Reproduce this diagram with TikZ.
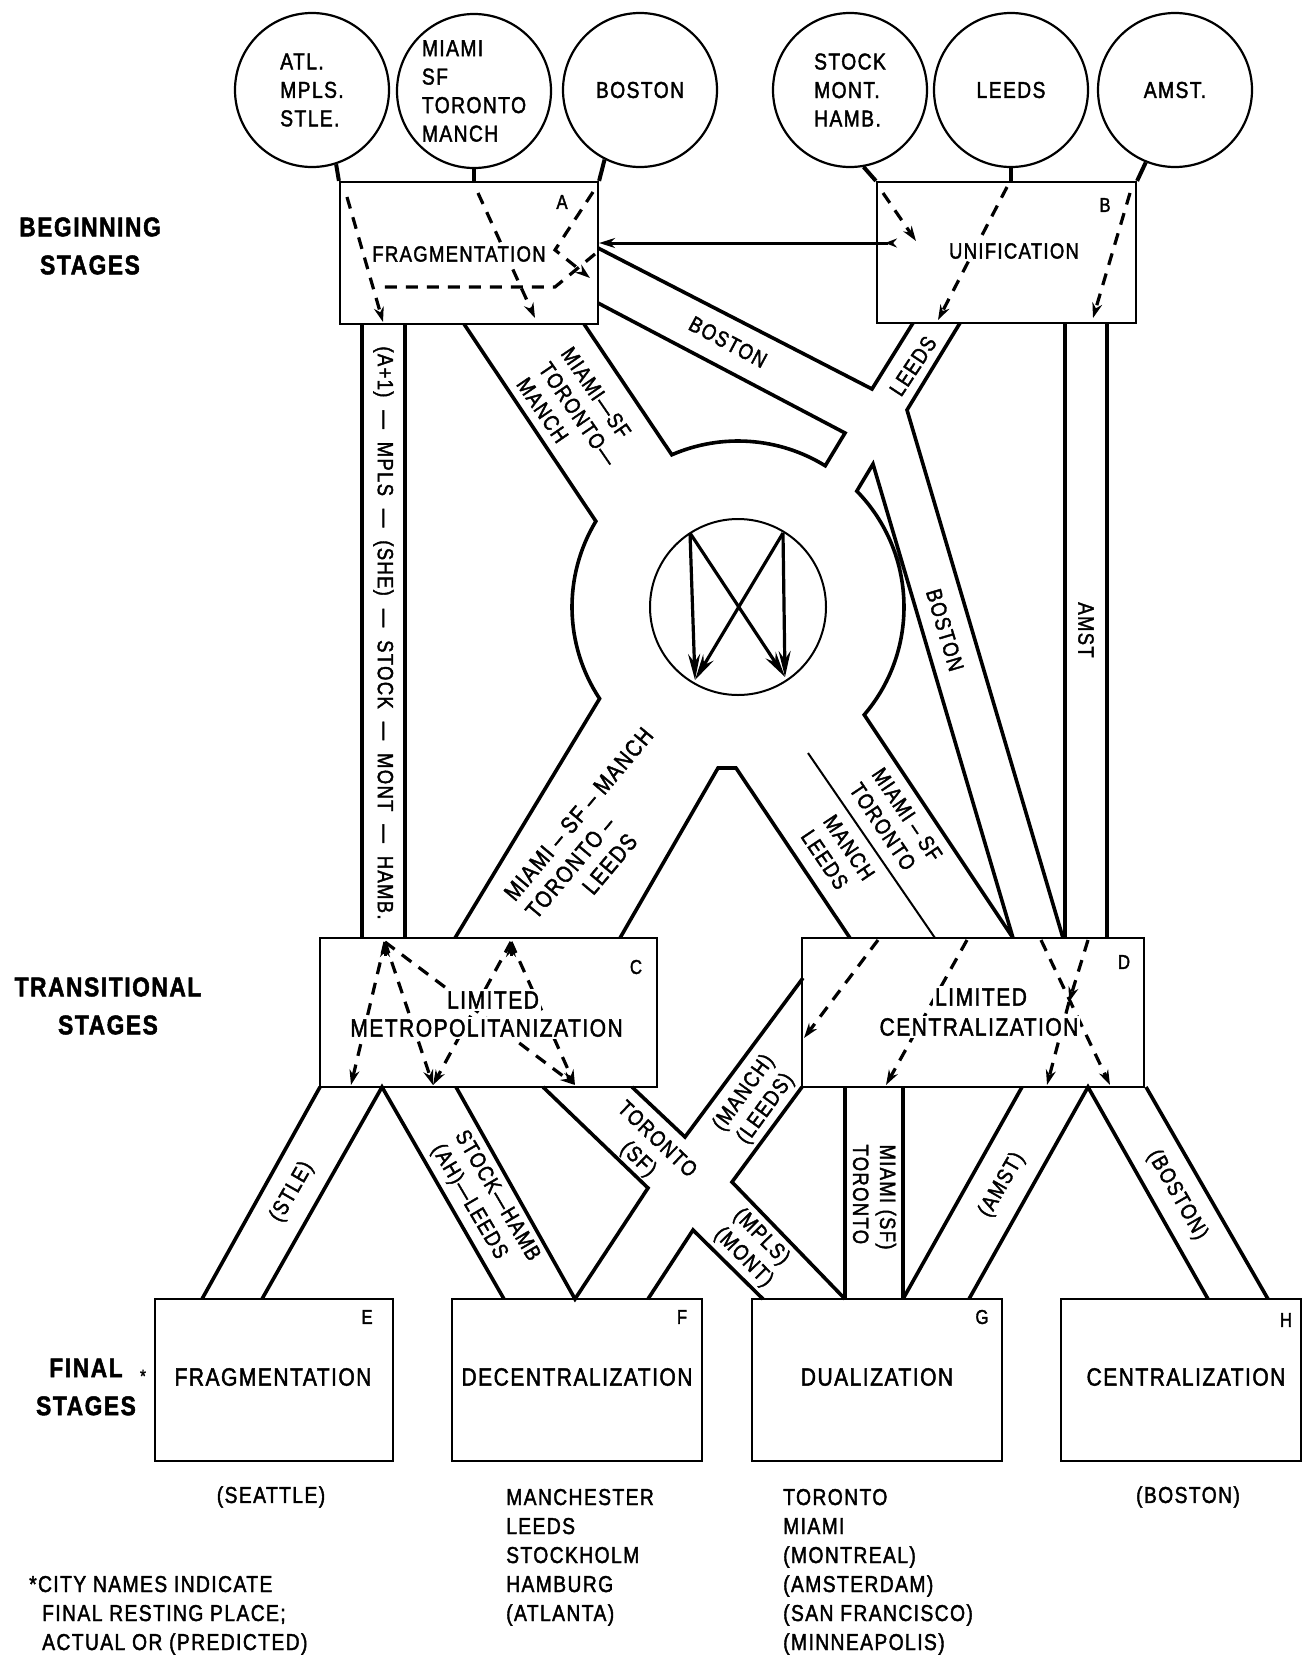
\documentclass[tikz,border=0pt]{standalone}
\usepackage{fontspec}
\setmainfont{Liberation Sans}[FakeStretch=0.84,LetterSpace=6,FakeBold=1.8]
\usetikzlibrary{arrows.meta,calc}
\begin{document}
\begin{tikzpicture}[x=1pt,y=-1pt,
  band/.style={line width=3.6pt, line join=miter, line cap=butt},
  thinband/.style={line width=2pt},
  stagebox/.style={draw, line width=2.2pt, inner sep=0pt},
  city/.style={draw, circle, line width=2.2pt, minimum size=154pt, inner sep=0pt, align=left, font=\fontsize{23}{28.5}\selectfont},
  stem/.style={line width=4pt},
  flow/.style={line width=3.2pt, dash pattern=on 12pt off 9pt, -{Stealth[length=15pt,width=10pt]}},
  flowline/.style={line width=3.2pt, dash pattern=on 12pt off 9pt},
  hubarrow/.style={line width=3.2pt, -{Stealth[length=26pt,width=12pt]}},
  boxtext/.style={font=\fontsize{22}{26}\selectfont, inner sep=2pt, fill=white},
  bigtext/.style={font=\fontsize{25}{30}\selectfont, inner sep=2pt, fill=white},
  letter/.style={font=\fontsize{20}{24}\selectfont, inner sep=0pt},
  road/.style={font=\fontsize{22}{27}\selectfont, inner sep=0pt, align=left},
  stagelbl/.style={font=\bfseries\fontsize{27}{38}\selectfont, align=center, inner sep=0pt},
  plain/.style={font=\fontsize{23}{28}\selectfont, inner sep=0pt},
  listtext/.style={font=\fontsize{23}{28}\selectfont, inner sep=0pt, anchor=base west},
]
\useasboundingbox (0,0) rectangle (1308,1655);

% ---------- city circles ----------
\node[city] (c1) at (312,90) {ATL.\\MPLS.\\STLE.};
\node[city] (c2) at (474,91) {MIAMI\\SF\\TORONTO\\MANCH};
\node[city] (c3) at (640,90) {BOSTON};
\node[city] (c4) at (850,90) {STOCK\\MONT.\\HAMB.};
\node[city] (c5) at (1011,90) {LEEDS};
\node[city] (c6) at (1175,90) {AMST.};

% ---------- stage boxes ----------
\node[stagebox, minimum width=258pt, minimum height=142pt] (A) at (469,253) {};
\node[stagebox, minimum width=259pt, minimum height=141pt] (B) at (1006.5,252.5) {};
\node[stagebox, minimum width=337pt, minimum height=149pt] (C) at (488.5,1012.5) {};
\node[stagebox, minimum width=342pt, minimum height=149pt] (D) at (973,1012.5) {};
\node[stagebox, minimum width=238pt, minimum height=162pt] (E) at (274,1380) {};
\node[stagebox, minimum width=250pt, minimum height=162pt] (F) at (577,1380) {};
\node[stagebox, minimum width=250pt, minimum height=162pt] (G) at (877,1380) {};
\node[stagebox, minimum width=240pt, minimum height=162pt] (H) at (1181,1380) {};

% ---------- stems ----------
\draw[stem] (c1.-72) -- (A.north west);
\draw[stem] (c2.south) -- (c2.south |- A.north);
\draw[stem] (c3.-117) -- (A.north east);
\draw[stem] (c4.-80) -- (B.north west);
\draw[stem] (c5.south) -- (c5.south |- B.north);
\draw[stem] (c6.-112) -- (B.north east);

% ---------- roads (upper) ----------
\coordinate (O) at (738,607);
\draw[band] (362,324) -- (362,938);
\draw[band] (405,324) -- (405,938);
\draw[band] (464,324) -- ($(O)+(211.1:166)$) arc[start angle=211.1, end angle=146.5, radius=166] -- (455,938);
\draw[band] (584,324) -- ($(O)+(-113.5:166)$) arc[start angle=-113.5, end angle=-58.3, radius=166] -- (845,433) -- (598,303);
\draw[band] (598,248) -- (872,389) -- (913,323);
\draw[band] (960,323) -- (907,410) -- (1063,938);
\draw[band] (1013,938) -- (873,464) -- ($(O)+(-44.3:166)$) arc[start angle=-44.3, end angle=40.5, radius=166] -- (1013,938);
\draw[band] (1065,323) -- (1065,938);
\draw[band] (1107,323) -- (1107,938);
\draw[band] (620,938) -- (718,768) -- (736,768) -- (850,938);
\draw[thinband] (808,753) -- (935,938);

% ---------- roads (lower) ----------
\draw[band] (320,1087) -- (202,1299);
\draw[band] (262,1299) -- (382,1087) -- (504,1299);
\draw[band] (456,1087) -- (575,1299) -- (648,1188) -- (543,1087);
\draw[band] (632,1087) -- (685,1137) -- (803,978);
\draw[band] (802,1087) -- (732,1182) -- (845,1299);
\draw[band] (648,1299) -- (693,1230) -- (763,1299);
\draw[band] (845,1087) -- (845,1299);
\draw[band] (903,1087) -- (903,1299);
\draw[band] (1022,1087) -- (903,1299);
\draw[band] (969,1299) -- (1088,1087) -- (1208,1299);
\draw[band] (1146,1087) -- (1268,1299);

% ---------- hub ----------
\node[draw, circle, line width=2pt, minimum size=176pt, inner sep=0pt] (hub) at (O) {};
\coordinate (h1) at (690,533);
\coordinate (h2) at (783,533);
\coordinate (h3) at (695,680);
\coordinate (h4) at (785,677);
\draw[hubarrow] (h1) -- (h3);
\draw[hubarrow] (h2) -- (h4);
\draw[hubarrow] (h1) -- (h4);
\draw[hubarrow] (h2) -- (h3);

% ---------- flows in A and B ----------
\draw[flow] (347,197) -- (383,322);
\draw[flow] (478,193) -- (535,318);
\draw[flow] (593,192) -- (555,250) -- (590,278);
\draw[flowline] (595,254) -- (555,287) -- (377,287);
\draw[flow] (883,193) -- (916,241);
\draw[flow] (1007,187) -- (938,320);
\draw[flow] (1130,193) -- (1093,318);
\coordinate (abR) at (897,243);
\draw[line width=3pt, {Stealth[length=12pt,width=9pt,reversed]}-{Stealth[length=16pt,width=10pt]}] (abR) -- (abR -| A.east);

% ---------- flows in C ----------
\coordinate (cin1) at (385,942);
\coordinate (cin2) at (511,942);
\draw[flow] (cin1) -- (351,1085);
\draw[flow] (cin1) -- (433,1085);
\draw[flow] (cin2) -- (433,1085);
\draw[flow] (cin1) -- (575,1085);
\draw[flow] (cin2) -- (575,1085);
\draw[line width=3pt, -{Stealth[length=15pt,width=10pt]}] (385,956) -- (cin1);
\draw[line width=3pt, -{Stealth[length=15pt,width=10pt]}] (511,956) -- (cin2);

% ---------- flows in D ----------
\draw[flow] (878,940) -- (804,1038);
\draw[flow] (967,940) -- (886,1085);
\draw[flow] (1041,940) -- (1110,1085);
\draw[flow] (1088,940) -- (1069,1002);
\draw[flow] (1069,1002) -- (1047,1085);

% ---------- box texts ----------
\node[boxtext] (tA) at (459,254) {FRAGMENTATION};
\node[boxtext] (tB) at (1014,251) {UNIFICATION};
\node[bigtext] (tC1) at (493,1000) {LIMITED};
\node[bigtext] (tC2) at (486.5,1028) {METROPOLITANIZATION};
\node[bigtext] (tD1) at (981,997) {LIMITED};
\node[bigtext] (tD2) at (979,1027) {CENTRALIZATION};
\node[bigtext] (tE) at (273,1377) {FRAGMENTATION};
\node[bigtext] (tF) at (577,1377) {DECENTRALIZATION};
\node[bigtext] (tG) at (877,1377) {DUALIZATION};
\node[bigtext] (tH) at (1186,1377) {CENTRALIZATION};

\node[letter] (lA) at (562,202) {A};
\node[letter] (lB) at (1105,205) {B};
\node[letter] (lC) at (636,967) {C};
\node[letter] (lD) at (1124,962) {D};
\node[letter] (lE) at (367,1317) {E};
\node[letter] (lF) at (682,1317) {F};
\node[letter] (lG) at (982,1317) {G};
\node[letter] (lH) at (1286,1320) {H};

% ---------- stage labels ----------
\node[stagelbl] (sBeg) at (90,246) {BEGINNING\\STAGES};
\node[stagelbl] (sTr) at (108,1006) {TRANSITIONAL\\STAGES};
\node[stagelbl] (sFin) at (86,1387) {FINAL\\STAGES};
\node[font=\fontsize{18}{20}\selectfont, inner sep=0pt] (ast) at (143,1376) {*};

% ---------- road labels ----------
\node[road, rotate=-90] (r1) at (383.5,633) {(A+1) \ — \ MPLS \ — \ (SHE) \ — \ STOCK \ — \ MONT \ — \ HAMB.};
\node[road, rotate=-55.5] (r2) at (578,414) {MIAMI—SF\\TORONTO—\\MANCH};
\node[road, rotate=-28] (r3) at (728,342) {BOSTON};
\node[road, rotate=56.5] (r4) at (913,366) {LEEDS};
\node[road, rotate=-73.5] (r5) at (945,630) {BOSTON};
\node[road, rotate=-90] (r6) at (1086,630) {AMST};
\node[road, rotate=50, font=\fontsize{23.5}{28}\selectfont] (r7) at (600,832) {MIAMI – SF – MANCH\\TORONTO –\\\hspace*{55pt}LEEDS};
\node[road, rotate=-56] (r8) at (896,822) {MIAMI – SF\\TORONTO};
\node[road, rotate=-56] (r9) at (838,855) {MANCH\\LEEDS};
\node[road, rotate=60] (r10) at (292,1192) {(STLE)};
\node[road, rotate=-59.5] (r11) at (485,1203) {STOCK—HAMB\\(AH)—LEEDS};
\node[road, rotate=-43.5, align=center] (r12) at (647,1150) {TORONTO\\(SF)};
\node[road, rotate=54, align=center] (r13) at (755,1101) {(MANCH)\\(LEEDS)};
\node[road, rotate=-45.5] (r14) at (753,1248) {(MPLS)\\(MONT)};
\node[road, rotate=-90] (r15) at (874.5,1197) {MIAMI (SF)\\TORONTO};
\node[road, rotate=60] (r16) at (1002,1185) {(AMST)};
\node[road, rotate=-60] (r17) at (1177,1195) {(BOSTON)};

% ---------- final resting places ----------
\node[plain] (pE) at (271,1497) {(SEATTLE)};
\node[plain] (pH) at (1188,1497) {(BOSTON)};
\node[listtext] (pF1) at (506,1505) {MANCHESTER};
\node[listtext] (pF2) at (506,1534) {LEEDS};
\node[listtext] (pF3) at (506,1563) {STOCKHOLM};
\node[listtext] (pF4) at (506,1592) {HAMBURG};
\node[listtext] (pF5) at (506,1621) {(ATLANTA)};
\node[listtext] (pG1) at (783,1505) {TORONTO};
\node[listtext] (pG2) at (783,1534) {MIAMI};
\node[listtext] (pG3) at (783,1563) {(MONTREAL)};
\node[listtext] (pG4) at (783,1592) {(AMSTERDAM)};
\node[listtext] (pG5) at (783,1621) {(SAN FRANCISCO)};
\node[listtext] (pG6) at (783,1650) {(MINNEAPOLIS)};
\node[listtext] (n1) at (29,1592) {*CITY NAMES INDICATE};
\node[listtext] (n2) at (42,1621) {FINAL RESTING PLACE;};
\node[listtext] (n3) at (42,1650) {ACTUAL OR (PREDICTED)};
\end{tikzpicture}
\end{document}
